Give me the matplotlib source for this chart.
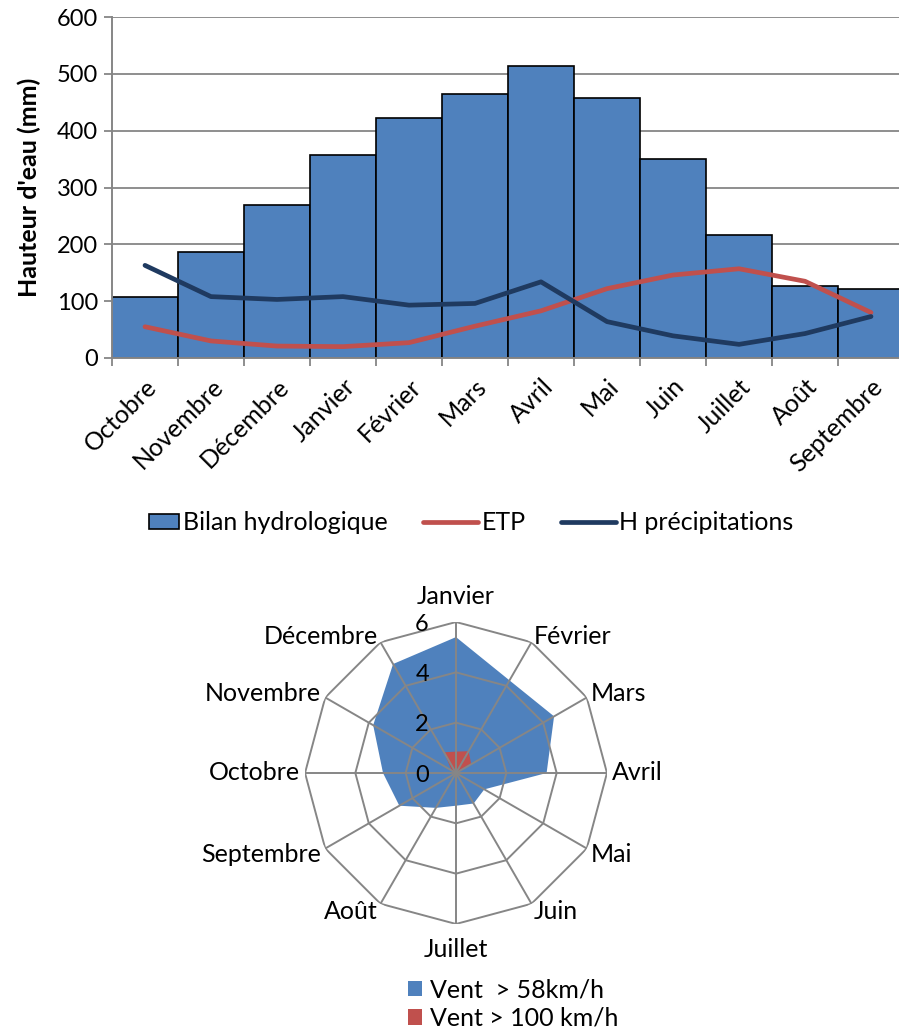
import numpy as np
import matplotlib
matplotlib.use("Agg")
import matplotlib.pyplot as plt
from matplotlib.patches import Patch, Rectangle
from matplotlib.lines import Line2D
from matplotlib.legend_handler import HandlerPatch

plt.rcParams['font.family'] = ['Lato', 'DejaVu Sans']

# ---------------- data ----------------
months_hydro = ["Octobre", "Novembre", "Décembre", "Janvier", "Février", "Mars",
                "Avril", "Mai", "Juin", "Juillet", "Août", "Septembre"]
bilan = [107, 186, 269, 358, 423, 464, 514, 458, 350, 217, 127, 121]
etp = [55, 30, 21, 20, 27, 56, 83, 122, 146, 157, 135, 80]
h_precip = [163, 108, 103, 108, 93, 96, 134, 64, 39, 24, 43, 73]
yticks = [0, 100, 200, 300, 400, 500, 600]

months_radar = ["Janvier", "Février", "Mars", "Avril", "Mai", "Juin",
                "Juillet", "Août", "Septembre", "Octobre", "Novembre", "Décembre"]
vent_58 = [5.4, 4.25, 4.5, 3.6, 1.3, 1.4, 1.3, 1.6, 2.6, 2.9, 3.8, 5.0]
vent_100 = [0.85, 1.0, 0.7, 0, 0, 0, 0, 0, 0, 0, 0.2, 0.95]
rticks = [0, 2, 4, 6]

BLUE = "#4F81BD"
RED = "#C0504D"
DARK = "#1F3A60"
GREY = "#868686"
FS = 18
FSN = 17

W, H = 899, 1032
fig = plt.figure(figsize=(W / 100, H / 100), dpi=100)

# ---------------- top chart ----------------
L, R, T, B = 112, 904, 17, 358
ax = fig.add_axes([L / W, 1 - B / H, (R - L) / W, (B - T) / H])
x = np.arange(len(months_hydro))
ax.bar(x, bilan, width=1.0, color=BLUE, edgecolor="black", linewidth=1.2, zorder=2)
ax.plot(x, etp, color=RED, lw=3.4, solid_capstyle="round", solid_joinstyle="round", zorder=3)
ax.plot(x, h_precip, color=DARK, lw=3.4, solid_capstyle="round", solid_joinstyle="round", zorder=4)
ax.set_xlim(-0.5, len(months_hydro) - 0.5)
ax.set_ylim(0, 600)
ax.set_yticks(yticks)
ax.set_yticklabels([str(v) for v in yticks], fontsize=FSN)
ax.yaxis.grid(True, color=GREY, lw=1.3, zorder=0)
ax.set_axisbelow(True)
for s in ["top", "right"]:
    ax.spines[s].set_visible(False)
for s in ["left", "bottom"]:
    ax.spines[s].set_color(GREY)
    ax.spines[s].set_linewidth(1.4)
    ax.spines[s].set_zorder(5)
ax.tick_params(axis="y", length=6, width=1.3, color=GREY, pad=4)
ax.set_xticks(np.arange(-0.5, len(months_hydro), 1.0))
ax.set_xticklabels([])
ax.tick_params(axis="x", length=6, width=1.3, color=GREY)
ax.set_xticks(x, minor=True)
ax.set_xticklabels(months_hydro, minor=True, rotation=45, ha="right", va="top",
                   rotation_mode="anchor", fontsize=FS)
ax.tick_params(axis="x", which="minor", length=0, pad=12)
ax.set_ylabel("Hauteur d'eau (mm)", fontsize=FS, fontweight="bold", labelpad=11)


def narrow_patch(legend, orig_handle, xdescent, ydescent, width, height, fontsize):
    w = width * 0.55
    h = height * 0.85
    return Rectangle((-xdescent + width - w, -ydescent + (height - h) / 2), w, h)


leg_handles = [Patch(facecolor=BLUE, edgecolor="black", linewidth=1.2),
               Line2D([], [], color=RED, lw=3.4, solid_capstyle="round"),
               Line2D([], [], color=DARK, lw=3.4, solid_capstyle="round")]
fig.legend(leg_handles, ["Bilan hydrologique", "ETP", "H précipitations"],
           loc="center", bbox_to_anchor=(459 / W, 1 - 523 / H), ncol=3, frameon=False,
           fontsize=FS, handlelength=2.2, handletextpad=0.15, columnspacing=1.4,
           handler_map={Patch: HandlerPatch(patch_func=narrow_patch)})

# ---------------- radar chart ----------------
cx, cy, rad = 456, 773, 151
pax = fig.add_axes([(cx - rad) / W, 1 - (cy + rad) / H, 2 * rad / W, 2 * rad / H],
                   projection="polar")
pax.set_theta_zero_location("N")
pax.set_theta_direction(-1)
pax.set_ylim(0, 6)
n = len(months_radar)
ang = np.arange(n) * 2 * np.pi / n
ang_c = np.append(ang, ang[0])

v58 = np.append(vent_58, vent_58[0])
v100 = np.append(vent_100, vent_100[0])
pax.fill(ang_c, v58, color=BLUE, lw=0, zorder=1)
pax.fill(ang_c, v100, color=RED, lw=0, zorder=2)

for r in rticks[1:]:
    pax.plot(ang_c, [r] * (n + 1), color=GREY, lw=1.4, zorder=3)
for a in ang:
    pax.plot([a, a], [0, rticks[-1]], color=GREY, lw=1.4, zorder=3)

pax.grid(False)
pax.set_xticks([])
pax.set_yticks([])
pax.spines["polar"].set_visible(False)
pax.patch.set_visible(False)

for a, lab in zip(ang, months_radar):
    s, c = np.sin(a), np.cos(a)
    ha = "left" if s > 0.1 else ("right" if s < -0.1 else "center")
    if c > 0.9:
        va = "bottom"
    elif c < -0.9:
        va = "top"
    else:
        va = "center"
    dy = 0
    if c > 0.9:
        dy = 10
    elif c < -0.9:
        dy = -10
    elif 0.3 < c <= 0.9:
        dy = 2
    elif -0.9 <= c < -0.3:
        dy = -4
    pax.annotate(lab, xy=(a, rticks[-1]), xytext=(5 * s, 4 * c + dy),
                 textcoords="offset pixels", ha=ha, va=va, fontsize=FS,
                 annotation_clip=False)

for r in rticks:
    pax.annotate(str(r), xy=(0, r), xytext=(-27, -2), textcoords="offset pixels",
                 ha="right", va="center", fontsize=FSN, annotation_clip=False)

rad_handles = [Patch(facecolor=BLUE, edgecolor="none"), Patch(facecolor=RED, edgecolor="none")]
fig.legend(rad_handles, ["Vent  > 58km/h", "Vent > 100 km/h"], loc="center left",
           bbox_to_anchor=(385 / W, 1 - 1004 / H), frameon=False, fontsize=FS,
           handlelength=0.56, handleheight=0.56, handletextpad=0.35, labelspacing=0.22)

fig.savefig("out.png", dpi=100)
